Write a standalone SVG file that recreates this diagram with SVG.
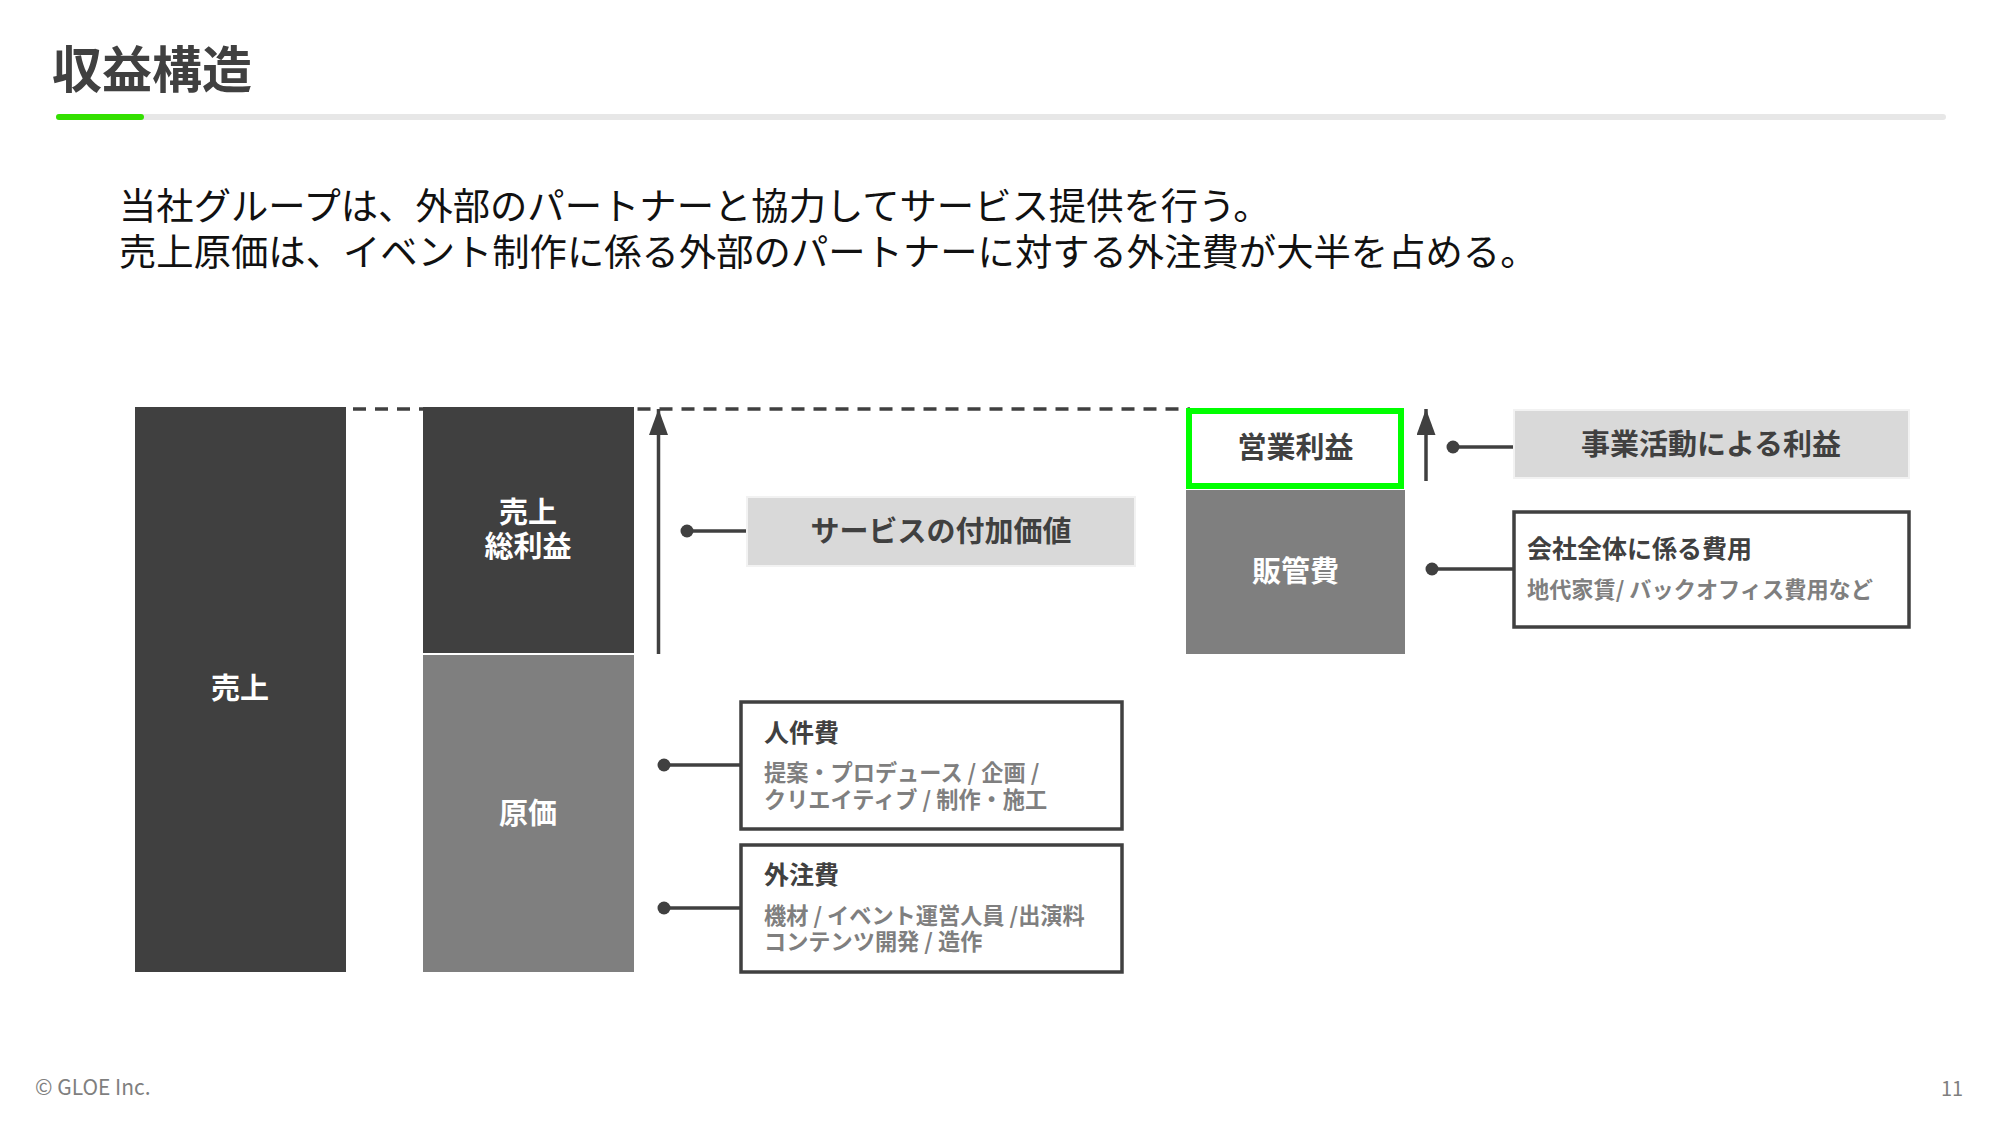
<svg xmlns="http://www.w3.org/2000/svg" width="2000" height="1125" viewBox="0 0 2000 1125">
<defs>
<marker id="ah" markerUnits="userSpaceOnUse" markerWidth="26" markerHeight="19" refX="26" refY="9.500" orient="auto" viewBox="0 0 26 19"><path d="M26 9.500L0 19V0Z" fill="#404040"/></marker>
</defs>
<style>
text{font-family:"Noto Sans CJK JP","Noto Sans",sans-serif;}
.dark{fill:#404040}.mid{fill:#7f7f7f}
.ln{stroke:#404040;stroke-width:3.500;fill:none}
.dot{fill:#404040}
.w{fill:#fff;font-size:29px;font-weight:700;text-anchor:middle}
.t{fill:#404040;font-size:29px;font-weight:700;text-anchor:middle}
.h{fill:#404040;font-size:25px;font-weight:700}
.s{fill:#7f7f7f;font-size:22.200px;font-weight:700}
.box{fill:#fff;stroke:#404040;stroke-width:3.500}
.tag{fill:#d9d9d9;stroke:#f2f2f2;stroke-width:2}
</style>
<rect width="2000" height="1125" fill="#fff"/>
<g id="header">
<text x="52" y="88" font-size="50" font-weight="700" fill="#404040">収益構造</text>
<rect x="56" y="114" width="1890" height="6" rx="3" fill="#e7e7e7"/>
<rect x="56" y="114" width="88" height="6" rx="3" fill="#33e000"/>
</g>
<g id="intro" font-size="37.330" fill="#111">
<text x="119" y="220">当社グループは、外部のパートナーと協力してサービス提供を行う。</text>
<text x="119" y="266">売上原価は、イベント制作に係る外部のパートナーに対する外注費が大半を占める。</text>
</g>
<g id="connectors">
<line class="ln" x1="353" y1="409" x2="423" y2="409" stroke-dasharray="13 9"/>
<line class="ln" x1="637.500" y1="409" x2="1190" y2="409" stroke-dasharray="13 9"/>
<line class="ln" x1="658.500" y1="654" x2="658.500" y2="409" marker-end="url(#ah)"/>
<line class="ln" x1="1426" y1="481" x2="1426" y2="409" marker-end="url(#ah)"/>
<circle class="dot" cx="687" cy="531" r="6.500"/><line class="ln" x1="687" y1="531" x2="747" y2="531"/>
<circle class="dot" cx="664" cy="765" r="6.500"/><line class="ln" x1="664" y1="765" x2="741" y2="765"/>
<circle class="dot" cx="664" cy="908" r="6.500"/><line class="ln" x1="664" y1="908" x2="741" y2="908"/>
<circle class="dot" cx="1453" cy="447" r="6.500"/><line class="ln" x1="1453" y1="447" x2="1514" y2="447"/>
<circle class="dot" cx="1432" cy="569" r="6.500"/><line class="ln" x1="1432" y1="569" x2="1514" y2="569"/>
</g>
<g id="uriage"><rect class="dark" x="135" y="407" width="211" height="565"/><text class="w" x="240" y="699">売上</text></g>
<g id="sourieki"><rect class="dark" x="423" y="407" width="211" height="246"/><text class="w" x="528" y="523">売上</text><text class="w" x="528" y="557">総利益</text></g>
<g id="genka"><rect class="mid" x="423" y="655" width="211" height="317"/><text class="w" x="528" y="824">原価</text></g>
<g id="hankan"><rect class="mid" x="1186" y="490" width="219" height="164"/><text class="w" x="1295.500" y="582">販管費</text></g>
<g id="eigyo"><rect x="1189" y="411" width="212" height="75" fill="#fff" stroke="#00ff00" stroke-width="6"/><text class="t" x="1295.500" y="458">営業利益</text></g>
<g id="tag-service"><rect class="tag" x="747" y="497" width="388" height="69"/><text class="t" x="941" y="542">サービスの付加価値</text></g>
<g id="tag-jigyo"><rect class="tag" x="1514" y="410" width="395" height="68"/><text class="t" x="1711" y="455">事業活動による利益</text></g>
<g id="box-kaisha"><rect class="box" x="1514" y="512" width="395" height="115"/><text class="h" x="1527" y="558">会社全体に係る費用</text><text class="s" x="1527" y="598">地代家賃/ バックオフィス費用など</text></g>
<g id="box-jinken"><rect class="box" x="741" y="702" width="381" height="127"/><text class="h" x="764" y="742">人件費</text><text class="s" x="764" y="781">提案・プロデュース / 企画 /</text><text class="s" x="764" y="808">クリエイティブ / 制作・施工</text></g>
<g id="box-gaichu"><rect class="box" x="741" y="845" width="381" height="127"/><text class="h" x="764" y="884">外注費</text><text class="s" x="764" y="924">機材 / イベント運営人員 /出演料</text><text class="s" x="764" y="950">コンテンツ開発 / 造作</text></g>
<g id="footer" fill="#7f7f7f" font-size="21">
<text x="35" y="1095">© GLOE Inc.</text>
<text x="1941" y="1096" font-size="20">11</text>
</g>
</svg>
